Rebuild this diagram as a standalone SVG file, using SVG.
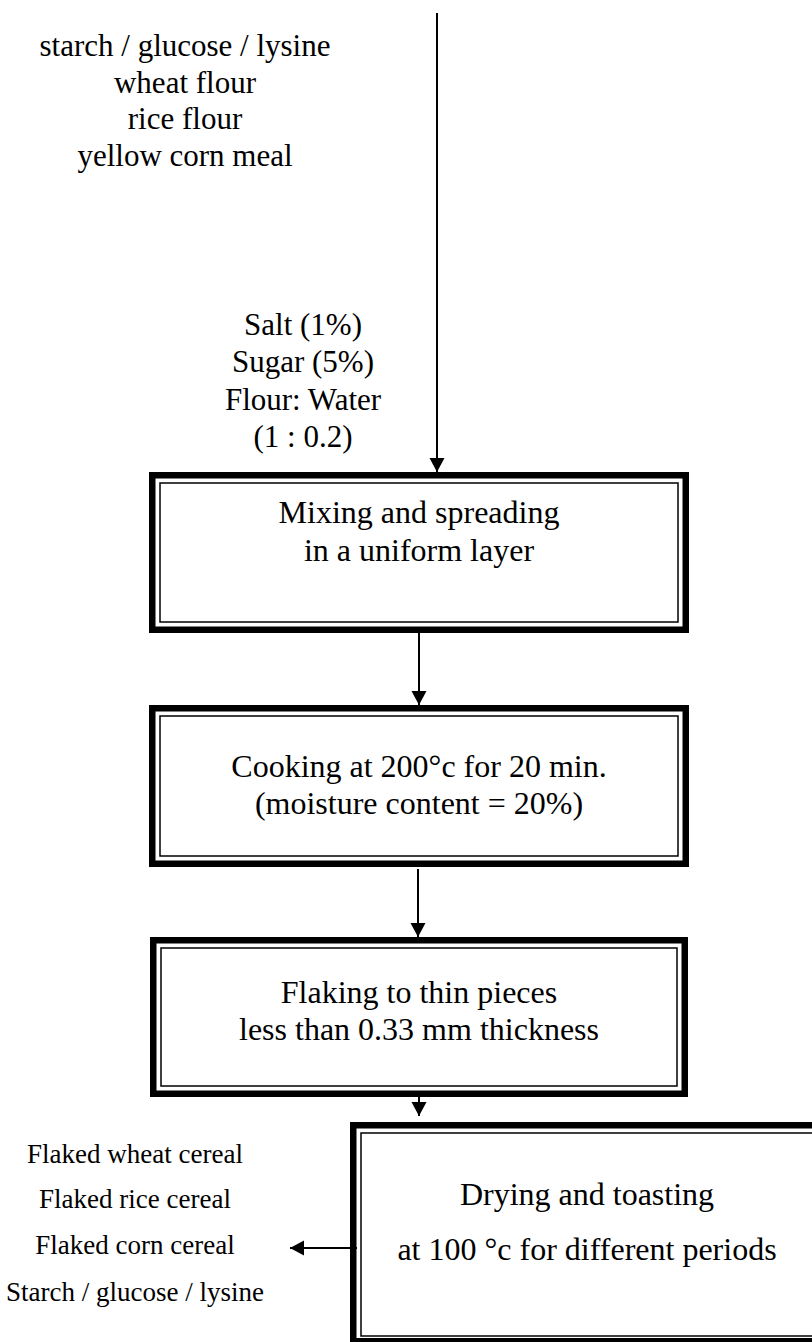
<svg xmlns="http://www.w3.org/2000/svg" width="812" height="1342" viewBox="0 0 812 1342">
<style>
text{font-family:'Liberation Serif','Times New Roman',Times,serif;fill:#000;text-anchor:middle}
.b{font-size:32px}
.s{font-size:31px}
.l{font-size:27px}
.thick{fill:none;stroke:#000;stroke-width:6.5}
.thin{fill:none;stroke:#000;stroke-width:1.5}
.conn{stroke:#000;stroke-width:2;fill:none}
</style>
<defs>
<marker id="ah" markerUnits="userSpaceOnUse" markerWidth="16" markerHeight="16" viewBox="0 0 16 16" refX="14" refY="8" orient="auto">
<path d="M0,0.5 L14,8 L0,15.5 Z" fill="#000"/>
</marker>
</defs>
<rect width="812" height="1342" fill="#fff"/>
<g id="inputs">
<text class="s" x="185" y="56">starch / glucose / lysine</text>
<text class="s" x="185" y="93">wheat flour</text>
<text class="s" x="185" y="129">rice flour</text>
<text class="s" x="185" y="166">yellow corn meal</text>
</g>
<g id="additives">
<text class="s" x="303" y="335">Salt (1%)</text>
<text class="s" x="303" y="372">Sugar (5%)</text>
<text class="s" x="303" y="410">Flour: Water</text>
<text class="s" x="303" y="447">(1 : 0.2)</text>
</g>
<g id="mixing">
<rect class="thick" x="152.25" y="475.25" width="533.5" height="154.5"/>
<rect class="thin" x="160" y="483" width="518" height="139"/>
<text class="b" x="419" y="523">Mixing and spreading</text>
<text class="b" x="419" y="561">in a uniform layer</text>
</g>
<g id="cooking">
<rect class="thick" x="152.25" y="708.25" width="533.5" height="155.5"/>
<rect class="thin" x="160" y="716" width="518" height="140"/>
<text class="b" x="419" y="777">Cooking at 200°c for 20 min.</text>
<text class="b" x="419" y="814">(moisture content = 20%)</text>
</g>
<g id="flaking">
<rect class="thick" x="153.25" y="940.25" width="531.5" height="153.5"/>
<rect class="thin" x="161" y="948" width="516" height="138"/>
<text class="b" x="419" y="1003">Flaking to thin pieces</text>
<text class="b" x="419" y="1040">less than 0.33 mm thickness</text>
</g>
<g id="drying">
<rect class="thick" x="353.25" y="1125.25" width="480" height="216"/>
<rect class="thin" x="361" y="1133" width="470" height="203"/>
<text class="b" x="587" y="1205">Drying and toasting</text>
<text class="b" x="587" y="1260">at 100 °c for different periods</text>
</g>
<g id="products">
<text class="l" x="135" y="1163">Flaked wheat cereal</text>
<text class="l" x="135" y="1208">Flaked rice cereal</text>
<text class="l" x="135" y="1254">Flaked corn cereal</text>
<text class="l" x="135" y="1301">Starch / glucose / lysine</text>
</g>
<g id="connectors">
<line class="conn" x1="437" y1="13" x2="437" y2="472" marker-end="url(#ah)"/>
<line class="conn" x1="419" y1="633" x2="419" y2="705" marker-end="url(#ah)"/>
<line class="conn" x1="418" y1="869" x2="418" y2="937" marker-end="url(#ah)"/>
<line class="conn" x1="419" y1="1097" x2="419" y2="1116" marker-end="url(#ah)"/>
<line class="conn" x1="357" y1="1248" x2="290" y2="1248" marker-end="url(#ah)"/>
</g>
</svg>
